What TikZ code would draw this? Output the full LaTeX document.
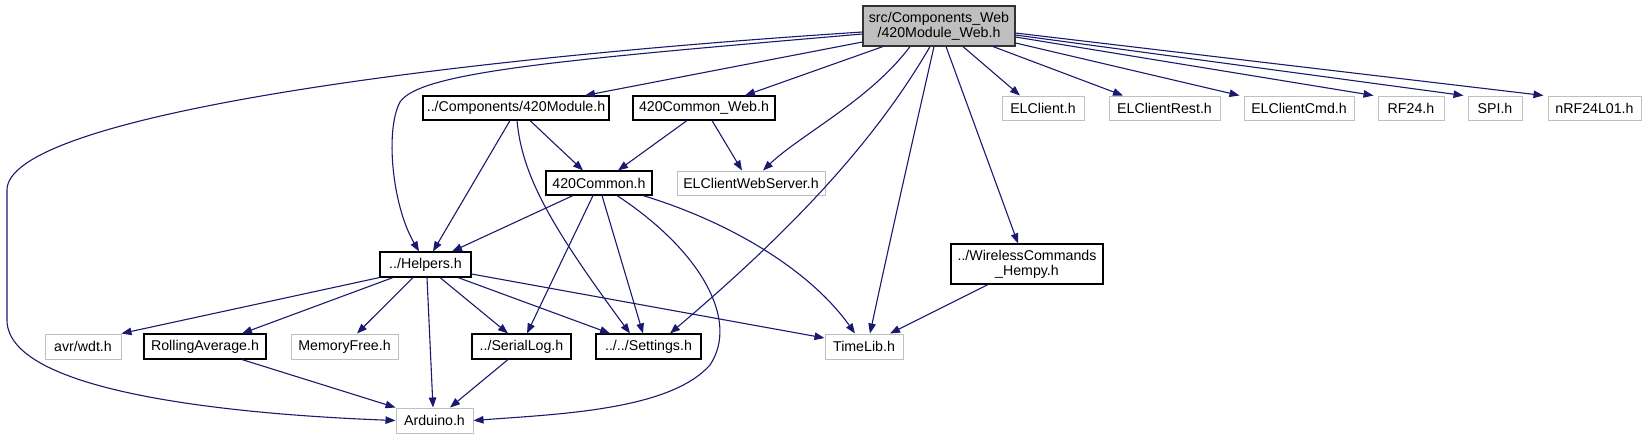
\documentclass[tikz,border=0pt]{standalone}
\usepackage{fontspec}
\setmainfont{Liberation Sans}
\usetikzlibrary{arrows.meta}
\definecolor{edgec}{HTML}{191970}
\definecolor{greyb}{HTML}{BFBFBF}
\begin{document}
\begin{tikzpicture}[x=1pt,y=-1pt,
 box/.style={draw=black,line width=1.1pt,fill=white,inner sep=0pt,align=center,font=\fontsize{14.2}{15}\selectfont},
 ext/.style={box,draw=greyb,line width=1pt},
 rootbox/.style={box,fill=greyb,draw=black!80},
 edge/.style={draw=edgec,line width=1.1pt,-{Triangle[length=10pt,width=7.5pt]}}]
\useasboundingbox (0,0) rectangle (1646,440);
% nodes
\node[rootbox,minimum width=152pt,minimum height=40pt] (root) at (939,26) {src/Components\_Web\\/420Module\_Web.h};
\node[box,minimum width=186pt,minimum height=24pt] (mod) at (516,108) {../Components/420Module.h};
\node[box,minimum width=142pt,minimum height=24pt] (cweb) at (704,108) {420Common\_Web.h};
\node[box,minimum width=106pt,minimum height=24pt] (common) at (599,183) {420Common.h};
\node[ext,minimum width=148pt,minimum height=24pt] (elws) at (751,183) {ELClientWebServer.h};
\node[ext,minimum width=82pt,minimum height=24pt] (elc) at (1043,108) {ELClient.h};
\node[ext,minimum width=111pt,minimum height=24pt] (elrest) at (1164.5,108) {ELClientRest.h};
\node[ext,minimum width=110pt,minimum height=24pt] (elcmd) at (1299,108) {ELClientCmd.h};
\node[ext,minimum width=66pt,minimum height=24pt] (rf) at (1411,108) {RF24.h};
\node[ext,minimum width=54pt,minimum height=24pt] (spi) at (1495,108) {SPI.h};
\node[ext,minimum width=93pt,minimum height=24pt] (nrf) at (1594.5,108) {nRF24L01.h};
\node[box,minimum width=91pt,minimum height=25pt] (helpers) at (425.5,264.5) {../Helpers.h};
\node[box,minimum width=152pt,minimum height=40pt] (wireless) at (1027,264) {../WirelessCommands\\\_Hempy.h};
\node[ext,minimum width=76pt,minimum height=25pt] (wdt) at (83,346.5) {avr/wdt.h};
\node[box,minimum width=122pt,minimum height=25pt] (rolling) at (205,346.5) {RollingAverage.h};
\node[ext,minimum width=107pt,minimum height=25pt] (memfree) at (344.5,346.5) {MemoryFree.h};
\node[box,minimum width=99pt,minimum height=25pt] (serial) at (521.5,346.5) {../SerialLog.h};
\node[box,minimum width=105pt,minimum height=25pt] (settings) at (648.5,346.5) {../../Settings.h};
\node[ext,minimum width=78pt,minimum height=25pt] (timelib) at (864,346.5) {TimeLib.h};
\node[ext,minimum width=77pt,minimum height=25pt] (arduino) at (434.5,420.5) {Arduino.h};
% edges from root
\draw[edge] ([yshift=-16pt]root.west) -- ([xshift=69pt]mod.north);
\draw[edge] ([xshift=-56pt]root.south) -- ([xshift=41pt]cweb.north);
\draw[edge] ([xshift=-29pt]root.south) .. controls (870,100) and (800,135) .. ([xshift=12pt]elws.north);
\draw[edge] ([xshift=-9pt]root.south) .. controls (870,150) and (780,240) .. ([xshift=21.5pt]settings.north);
\draw[edge] ([xshift=-5pt]root.south) .. controls (915,130) and (890,240) .. ([xshift=6pt]timelib.north);
\draw[edge] ([xshift=7pt]root.south) -- ([xshift=-9pt]wireless.north);
\draw[edge] ([xshift=24pt]root.south) -- ([xshift=-23pt]elc.north);
\draw[edge] ([xshift=54pt]root.south) -- ([xshift=-41.5pt]elrest.north);
\draw[edge] ([yshift=-17pt]root.east) -- ([xshift=-4pt]elcmd.north west);
\draw[edge] ([yshift=-11pt]root.east) -- ([xshift=-4pt]rf.north west);
\draw[edge] ([yshift=-9pt]root.east) -- ([xshift=-4pt]spi.north west);
\draw[edge] ([yshift=-7pt]root.east) -- ([xshift=-4pt]nrf.north west);
\draw[edge] ([yshift=-6pt]root.west) .. controls (400,62) and (7,120) .. (7,190) -- (7,320) .. controls (7,395) and (250,415) .. (arduino.west);
\draw[edge] ([yshift=-8pt]root.west) .. controls (560,60) and (420,72) .. (400,102) .. controls (385,130) and (392,205) .. ([xshift=-6.5pt]helpers.north);
% edges from 420Module
\draw[edge] ([xshift=-6pt]mod.south) -- ([xshift=7.5pt]helpers.north);
\draw[edge] ([xshift=1pt]mod.south) .. controls (522,175) and (550,225) .. ([xshift=-18.5pt]settings.north);
\draw[edge] ([xshift=14pt]mod.south) -- ([xshift=-16pt]common.north);
% edges from 420Common_Web
\draw[edge] ([xshift=-17pt]cweb.south) -- ([xshift=19pt]common.north);
\draw[edge] ([xshift=8pt]cweb.south) -- ([xshift=-9pt]elws.north);
% edges from 420Common
\draw[edge] ([xshift=-26pt]common.south) -- ([xshift=26.5pt]helpers.north);
\draw[edge] ([xshift=-6pt]common.south) -- ([xshift=5.5pt]serial.north);
\draw[edge] ([xshift=3pt]common.south) -- ([xshift=-5.5pt]settings.north);
\draw[edge] ([xshift=18pt]common.south) .. controls (700,250) and (740,320) .. (710,365) .. controls (670,410) and (560,414) .. (arduino.east);
\draw[edge] ([xshift=44pt]common.south) .. controls (730,222) and (810,270) .. ([xshift=-9pt]timelib.north);
% edges from Helpers
\draw[edge] (helpers.south west) -- (wdt.north east);
\draw[edge] ([xshift=-32.5pt]helpers.south) -- ([xshift=37pt]rolling.north);
\draw[edge] ([xshift=-12.5pt]helpers.south) -- ([xshift=12.5pt]memfree.north);
\draw[edge] ([xshift=1.5pt]helpers.south) -- ([xshift=-1.5pt]arduino.north);
\draw[edge] ([xshift=14.5pt]helpers.south) -- ([xshift=-13.5pt]serial.north);
\draw[edge] ([xshift=32.5pt]helpers.south) -- ([xshift=-38.5pt]settings.north);
\draw[edge] ([yshift=-9.5pt]helpers.east) -- ([yshift=8.5pt]timelib.west);
% others
\draw[edge] ([xshift=37pt]rolling.south) -- (arduino.north west);
\draw[edge] ([xshift=-13.5pt]serial.south) -- ([xshift=15.5pt]arduino.north);
\draw[edge] ([xshift=-39pt]wireless.south) -- ([xshift=26pt]timelib.north);
\end{tikzpicture}
\end{document}
